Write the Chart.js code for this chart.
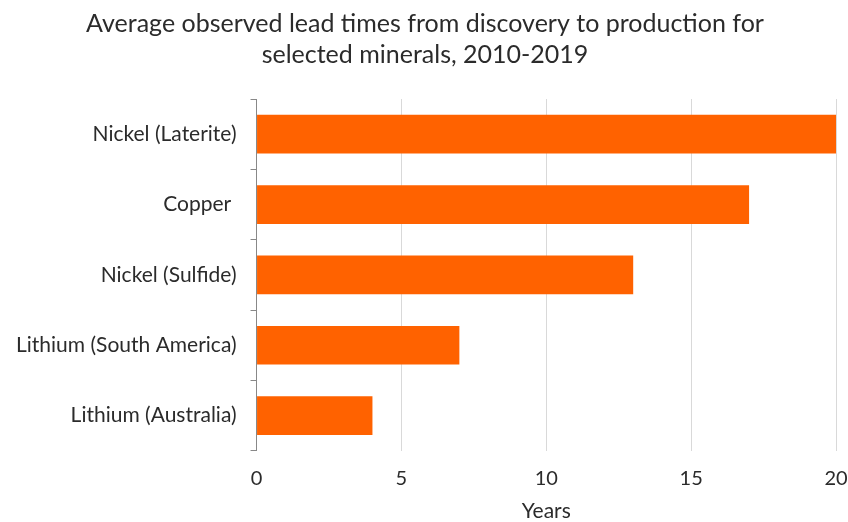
<!DOCTYPE html>
<html>
<head>
<meta charset="utf-8">
<script src="https://cdn.jsdelivr.net/npm/chart.js@4/dist/chart.umd.min.js"></script>
<style>
  html, body { margin: 0; padding: 0; background: #fff; }
  #wrap { width: 848px; height: 522px; }
</style>
</head>
<body>
<div id="wrap"><canvas id="leadTimesChart"></canvas></div>
<script>
const minerals = ['Nickel (Laterite)', 'Copper ', 'Nickel (Sulfide)', 'Lithium (South America)', 'Lithium (Australia)'];
const leadYears = [20, 17, 13, 7, 4];
const titleLines = ['Average observed lead times from discovery to production for', 'selected minerals, 2010-2019'];

const fontFamily = 'Lato, "Open Sans", sans-serif';
const textColor = '#2b2b2b';

const ctx = document.getElementById('leadTimesChart').getContext('2d');

new Chart(ctx, {
  type: 'bar',
  data: {
    labels: minerals,
    datasets: [{
      data: leadYears,
      backgroundColor: '#FF6200',
      borderWidth: 0,
      categoryPercentage: 1,
      barPercentage: 0.55
    }]
  },
  options: {
    indexAxis: 'y',
    responsive: true,
    maintainAspectRatio: false,
    animation: false,
    layout: {
      padding: { left: 2, right: 0, top: 8, bottom: -2 }
    },
    plugins: {
      legend: { display: false },
      tooltip: { enabled: false },
      title: {
        display: true,
        text: titleLines,
        color: textColor,
        font: { family: fontFamily, size: 25, weight: 'normal', lineHeight: 1.26 },
        padding: { top: 0, bottom: 28 }
      }
    },
    scales: {
      x: {
        min: 0,
        max: 20,
        // the last tick label only needs room for half its width
        afterFit: scale => { scale.paddingRight = 12; },
        ticks: {
          stepSize: 5,
          color: textColor,
          font: { family: fontFamily, size: 20 },
          padding: 16
        },
        grid: {
          color: '#d9d9d9',
          drawTicks: false
        },
        border: { display: false },
        title: {
          display: true,
          text: 'Years',
          color: textColor,
          font: { family: fontFamily, size: 21 },
          padding: { top: -8, bottom: 0 }
        }
      },
      y: {
        ticks: {
          color: textColor,
          font: { family: fontFamily, size: 21 },
          padding: 14
        },
        grid: {
          offset: true,
          drawOnChartArea: false,
          drawTicks: true,
          tickLength: 6,
          tickColor: '#888888'
        },
        border: { display: true, color: '#888888', width: 1 }
      }
    }
  }
});
</script>
</body>
</html>
